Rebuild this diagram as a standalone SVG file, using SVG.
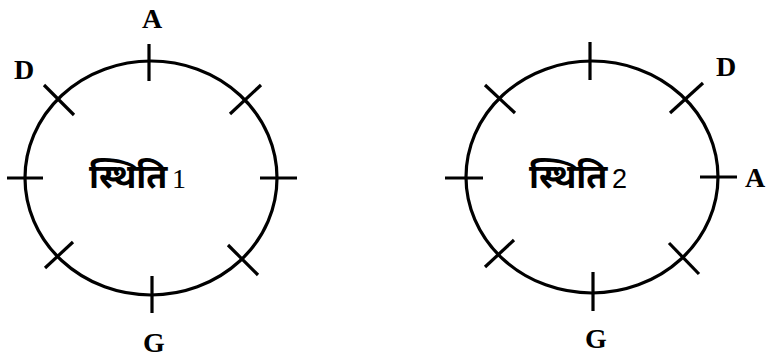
<svg xmlns="http://www.w3.org/2000/svg" width="768" height="359" viewBox="0 0 768 359">
<style>
.ring{fill:none;stroke:#000;stroke-width:3.2}
.tick{stroke:#000;stroke-width:3.2;stroke-linecap:butt}
.lbl{font-family:"Liberation Serif","Times New Roman",serif;font-weight:bold;font-size:28px;fill:#000}
.dev{font-family:"Noto Sans Devanagari","Lohit Devanagari","Noto Sans","DejaVu Sans",sans-serif;font-weight:bold;font-size:34px;fill:#000}
.n1{font-family:"Liberation Serif",serif;font-weight:normal;font-size:28px}
.n2{font-family:"Liberation Sans",sans-serif;font-weight:normal;font-size:27px}
</style>
<rect width="768" height="359" fill="#fff"/>
<g id="state1">
<ellipse class="ring" cx="151" cy="178" rx="126" ry="117"/>
<g class="ticks">
<line class="tick" x1="149" y1="44" x2="149" y2="81"/>
<line class="tick" x1="152" y1="276" x2="152" y2="313"/>
<line class="tick" x1="7" y1="178" x2="43" y2="178"/>
<line class="tick" x1="260" y1="178" x2="297" y2="178"/>
<line class="tick" x1="44" y1="85" x2="74" y2="115"/>
<line class="tick" x1="230" y1="114" x2="261" y2="85"/>
<line class="tick" x1="45" y1="268" x2="73" y2="242"/>
<line class="tick" x1="228" y1="245" x2="258" y2="275"/>
</g>
<text class="lbl" x="152" y="28" text-anchor="middle">A</text>
<text class="lbl" x="24" y="79" text-anchor="middle">D</text>
<text class="lbl" x="154" y="352" text-anchor="middle">G</text>
<text class="dev" x="89" y="188">स्थिति<tspan class="n1" x="172" y="188">1</tspan></text>
</g>
<g id="state2">
<ellipse class="ring" cx="592" cy="177" rx="126" ry="116"/>
<g class="ticks">
<line class="tick" x1="590" y1="42" x2="590" y2="80"/>
<line class="tick" x1="593" y1="272" x2="593" y2="311"/>
<line class="tick" x1="445" y1="178" x2="483" y2="178"/>
<line class="tick" x1="700" y1="177" x2="737" y2="177"/>
<line class="tick" x1="485" y1="85" x2="515" y2="113"/>
<line class="tick" x1="670" y1="113" x2="703" y2="83"/>
<line class="tick" x1="485" y1="267" x2="514" y2="240"/>
<line class="tick" x1="669" y1="243" x2="699" y2="274"/>
</g>
<text class="lbl" x="726" y="76" text-anchor="middle">D</text>
<text class="lbl" x="745" y="187">A</text>
<text class="lbl" x="596" y="348" text-anchor="middle">G</text>
<text class="dev" x="529" y="188">स्थिति<tspan class="n2" x="612" y="188">2</tspan></text>
</g>
</svg>
